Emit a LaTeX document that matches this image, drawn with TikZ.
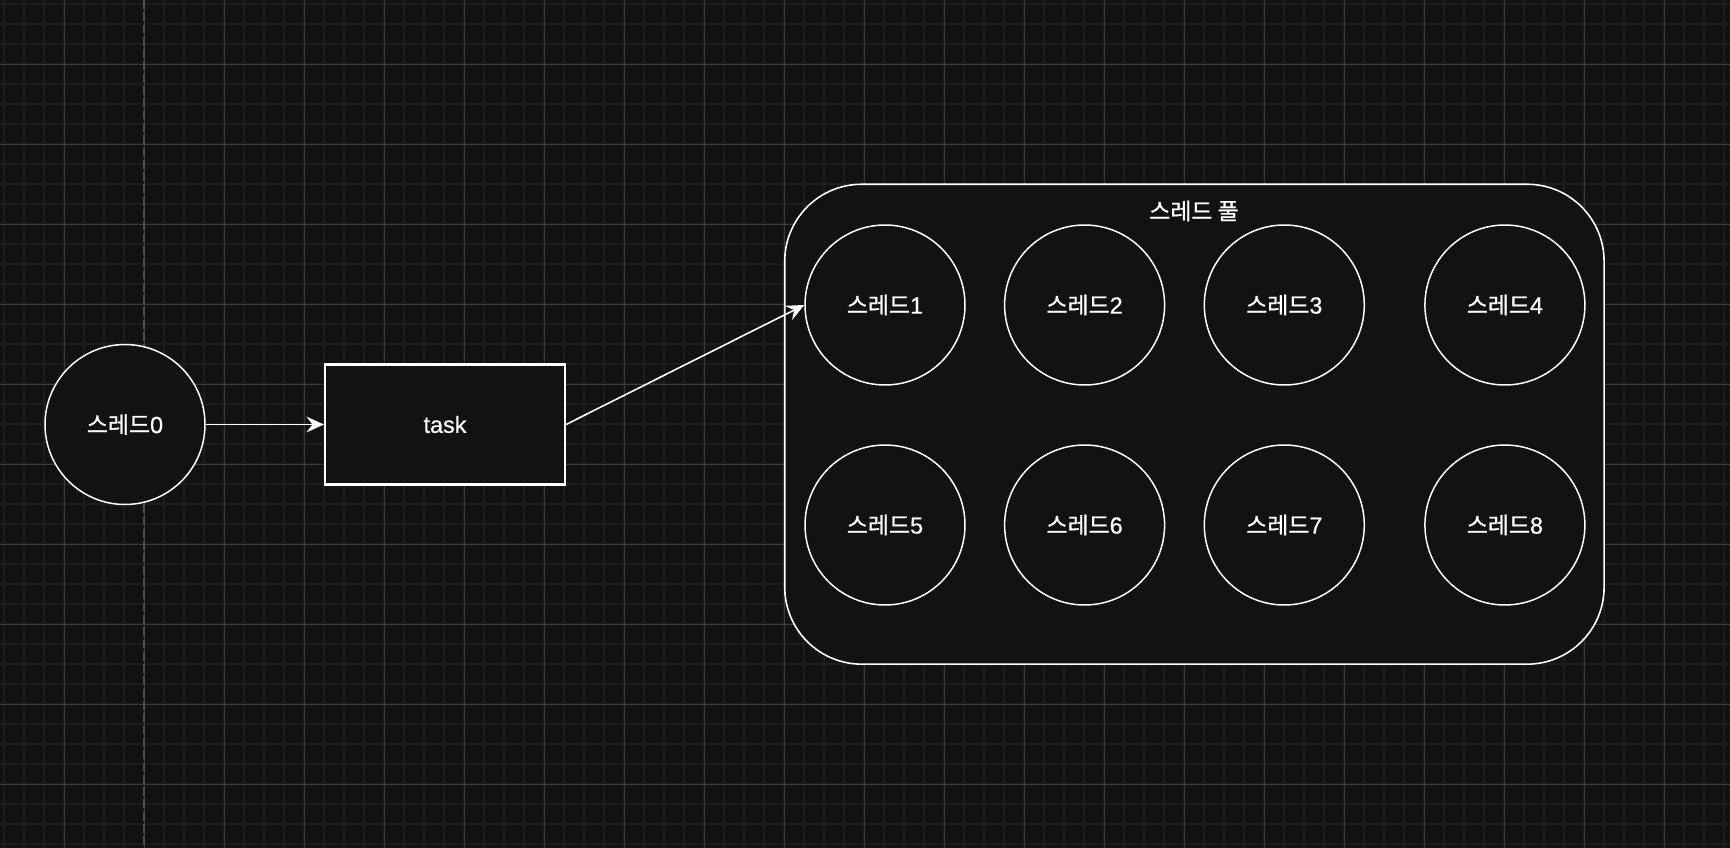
\documentclass[tikz,border=0pt]{standalone}
\usepackage{fontspec}
\setmainfont{Liberation Sans}[FakeBold=0.6]
\newfontfamily\krfont[Scale=0.98,FakeBold=1]{Noto Sans CJK KR}
\usepackage{xcolor}
\usepackage{tikz}
\usetikzlibrary{arrows.meta}

\definecolor{canvas}{HTML}{121212}
\definecolor{gridminor}{HTML}{1D1D1D}
\definecolor{gridmajor}{HTML}{3C3C3C}
\definecolor{gridaxis}{HTML}{505050}

\begin{document}
\begin{tikzpicture}[x=0.02cm,y=-0.02cm,
  label font/.style={text=white,font=\fontsize{13.3}{15}\selectfont},
  thread/.style={circle,draw=white,line width=0.85pt,fill=canvas,
    minimum size=3.2cm,inner sep=0pt,label font},
  taskbox/.style={rectangle,draw=white,line width=1.2pt,fill=canvas,
    minimum width=4.8cm,minimum height=2.4cm,inner sep=0pt,label font},
  poolbox/.style={rectangle,rounded corners=1.54cm,draw=white,line width=0.9pt,
    fill=canvas,minimum width=16.39cm,minimum height=9.6cm,inner sep=0pt},
  flow/.style={white,line width=0.9pt,-{Stealth[length=10pt,width=9pt,inset=3.5pt]}}]
\useasboundingbox (0,0) rectangle (1730,848);
\fill [canvas] (0,0) rectangle (1730,848);

% grid
\foreach \x in {4,24,...,1730} \draw [gridminor,line width=0.6pt] (\x,0) -- (\x,848);
\foreach \y in {4,24,...,848} \draw [gridminor,line width=0.6pt] (0,\y) -- (1730,\y);
\foreach \x in {64,144,...,1730} \draw [gridmajor,line width=0.55pt] (\x,0) -- (\x,848);
\foreach \y in {64,144,...,848} \draw [gridmajor,line width=0.55pt] (0,\y) -- (1730,\y);
\draw [gridaxis,line width=0.7pt] [dash pattern=on 5pt off 2pt] (144,0) -- (144,848);

\node [thread] (thread0) at (125,424.5) {{\krfont 스레드}0};
\node [taskbox] (task) at (445,424.5) {task};

\node [poolbox] (pool) at (1194.4,424.2) {};
\node [label font] (poollabel) at (1194,211) {\krfont 스레드 풀};

\foreach \n/\x/\y in {1/885/305,2/1084.6/305,3/1284.3/305,4/1504.9/305,
                      5/885/525,6/1084.6/525,7/1284.3/525,8/1504.9/525}
  \node [thread] (thread\n) at (\x,\y) {{\krfont 스레드}\n};

\draw [flow] (thread0) -- (task);
\draw [flow] (task.east) -- (thread1.west);
\end{tikzpicture}
\end{document}
